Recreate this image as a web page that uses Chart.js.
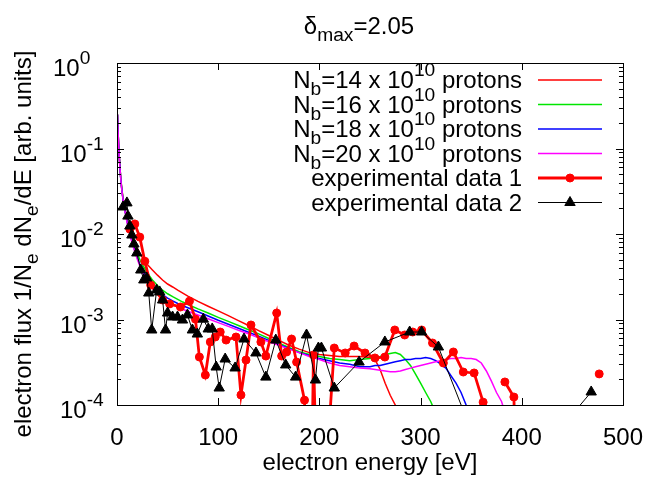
<!DOCTYPE html>
<html>
<head>
<meta charset="utf-8">
<script src="https://cdn.jsdelivr.net/npm/chart.js@4/dist/chart.umd.min.js"></script>
<style>
  html, body { margin: 0; padding: 0; background: #fff; }
  #caja { width: 654px; height: 479px; position: relative; }
</style>
</head>
<body>
<div id="caja"><canvas id="grafica"></canvas></div>
<script>
// energias de la simulacion [eV]
var energia = [0.5, 1, 2, 3, 4, 5, 6, 8, 10, 12, 14, 16, 18, 20, 23, 26, 30, 35, 40, 45,
    50, 55, 60, 65, 70, 80, 90, 100, 110, 120, 130, 140, 150, 160, 170, 180, 190, 200, 210, 220,
    230, 240, 250, 255, 260, 265, 270, 275, 280, 285, 290, 295, 300, 305, 310, 315, 320, 325, 330, 335,
    340, 345, 350, 355, 360, 365, 370, 375, 380, 385];

// flujo simulado para cada intensidad del haz
var flujo14 = [0.25, 0.16, 0.09, 0.058, 0.041, 0.032, 0.026, 0.019, 0.0148, 0.0121, 0.0102, 0.0088, 0.0077, 0.0068, 0.0058, 0.0051, 0.0044, 0.0038, 0.0033, 0.0029,
    0.0026, 0.0024, 0.0022, 0.00203, 0.00188, 0.00163, 0.00143, 0.00126, 0.00111, 0.00097, 0.00085, 0.00074, 0.00065, 0.00057, 0.0005, 0.00045, 0.00041, 0.00039, 0.00038, 0.00037,
    0.00037, 0.00037, 0.00036, 0.00034, 0.00026, 0.00018, 0.00013, 0.0001, 0.00007, null, null, null, null, null, null, null, null, null, null, null,
    null, null, null, null, null, null, null, null, null, null];
var flujo16 = [0.25, 0.16, 0.09, 0.058, 0.041, 0.032, 0.026, 0.0186, 0.0143, 0.0115, 0.0095, 0.008, 0.0068, 0.0059, 0.0049, 0.0042, 0.0035, 0.0029, 0.0025, 0.0022,
    0.002, 0.00185, 0.00172, 0.0016, 0.0015, 0.00133, 0.00119, 0.00106, 0.00095, 0.00085, 0.00076, 0.00068, 0.0006, 0.00053, 0.00047, 0.00042, 0.00039, 0.00037, 0.00035, 0.00034,
    0.00033, 0.00034, 0.00035, 0.00036, 0.00037, 0.00039, 0.0004, 0.00041, 0.00039, 0.00034, 0.00029, 0.00023, 0.00018, 0.00014, 0.00011, 0.00008, null, null, null, null,
    null, null, null, null, null, null, null, null, null, null];
var flujo18 = [0.25, 0.16, 0.09, 0.057, 0.04, 0.031, 0.025, 0.0183, 0.014, 0.011, 0.0089, 0.0074, 0.0062, 0.0053, 0.0043, 0.0036, 0.003, 0.0025, 0.0022, 0.00195,
    0.00178, 0.00165, 0.00154, 0.00145, 0.00137, 0.00123, 0.0011, 0.00098, 0.00088, 0.00079, 0.00071, 0.00064, 0.00057, 0.00051, 0.00046, 0.00041, 0.00038, 0.00035, 0.00033, 0.00031,
    0.0003, 0.00028, 0.00028, 0.00029, 0.00029, 0.0003, 0.00031, 0.00032, 0.00033, 0.00034, 0.00034, 0.00035, 0.00035, 0.00036, 0.00035, 0.00033, 0.0003, 0.00027, 0.00022, 0.00018,
    0.00014, 0.0001, 0.00007, null, null, null, null, null, null, null];
var flujo20 = [0.25, 0.16, 0.09, 0.057, 0.04, 0.031, 0.025, 0.018, 0.0135, 0.0107, 0.0086, 0.0071, 0.006, 0.0051, 0.0041, 0.0034, 0.0028, 0.0023, 0.002, 0.0018,
    0.00162, 0.0015, 0.0014, 0.00132, 0.00125, 0.00113, 0.00102, 0.00092, 0.00083, 0.00075, 0.00068, 0.00061, 0.00055, 0.0005, 0.00045, 0.00041, 0.00037, 0.00034, 0.00031, 0.00029,
    0.00028, 0.00027, 0.000265, 0.00026, 0.000255, 0.00025, 0.000245, 0.000245, 0.00025, 0.00026, 0.00027, 0.00028, 0.00029, 0.0003, 0.00031, 0.00032, 0.00033, 0.00034, 0.00035, 0.00035,
    0.00036, 0.00035, 0.00035, 0.00034, 0.00031, 0.00025, 0.00019, 0.00014, 0.00011, 0.00007];

// datos experimentales 1 (null = sin dato)
var exp1Energia = [12.7, 17.6, 22.5, 27.5, 33.3, 45.1, 52, 62.7, 71.6, 77.5,
    81.4, 87.3, 92.2, 97.1, 102, 107.8, 117.6, 122.5, 127.5, 132.4,
    142.2, 147.1, 157.8, 162.7, 167.6, 172.5, 177.5, 185.3, 191.2, 194.1,
    200, 214.7, 225.5, 234.3, 245.1, 254.9, 264.7, 274.5, 284.3, 292.2,
    301, 311.8, 322.5, 332.4, 342.2, 352.9, 361.8, 372, 383.3, 392.2,
    397, 440, 476.5, 490];
var exp1Flujo = [0.0114, 0.0131, 0.0092, 0.0048, 0.00253, 0.00169, 0.00152, 0.0014, 0.00164, 0.00101,
    0.000364, 0.000224, 0.000546, 0.000624, 0.000714, 0.000575, 0.000624, 0.000131, 0.000336, 0.000863,
    0.000546, 0.000374, 0.00119, 0.000374, 0.000417, 0.000591, 0.000318, 0.000114, 0.000001, 0.000385,
    0.000001, 0.000464, 0.000406, 0.00049, 0.000406, 0.000355, 0.000364, 0.000754, 0.000659, 0.000714,
    0.000754, 0.000531, 0.00031, 0.000417, 0.000243, 0.000237, 0.000108, null, 0.000186, 0.000124,
    0.000001, null, 0.000231, null];

// datos experimentales 2
var exp2Energia = [5.9, 9.8, 10.8, 12.7, 14.7, 16.7, 19.6, 23.5, 26.5, 29.4,
    31.4, 34.3, 39.2, 42.2, 45.1, 48, 50, 54.9, 59.8, 64.7,
    69.6, 74.5, 79.4, 85.3, 90.2, 94.1, 98, 101, 106.9, 116.7,
    125.5, 137.3, 147.1, 156.9, 166.7, 176.5, 187.3, 196.1, 199, 202,
    214.7, 239.2, 264.7, 289.2, 301, 317.6, 377.5, 468.6];
var exp2Flujo = [0.0207, 0.0231, 0.0162, 0.0124, 0.00973, 0.00764, 0.006, 0.00379, 0.0029, 0.00306,
    0.00204, 0.000754, 0.00221, 0.0021, 0.00169, 0.000754, 0.00119, 0.00107, 0.00107, 0.000986,
    0.00113, 0.000754, 0.000676, 0.00101, 0.000775, 0.000775, 0.000278, 0.000158, 0.000345, 0.000271,
    0.000591, 0.000406, 0.000212, 0.000575, 0.000294, 0.000212, 0.000659, 0.000196, 0.000464, 0.000464,
    0.000158, 0.000318, 0.000546, 0.000714, 0.000714, 0.000477, 0.0000074, 0.000142];

// ejes y textos (^ superindice, _ subindice)
var xTicks = [0, 100, 200, 300, 400, 500];
var yTicks = [1e-4, 1e-3, 1e-2, 1e-1, 1];
var yEtiquetas = ['10^{-4}', '10^{-3}', '10^{-2}', '10^{-1}', '10^{0}'];
var etiquetas = ['N_b=14 x 10^{10} protons', 'N_b=16 x 10^{10} protons', 'N_b=18 x 10^{10} protons',
    'N_b=20 x 10^{10} protons', 'experimental data 1', 'experimental data 2'];
var titulo = '\u03b4_{max}=2.05';
var tituloX = 'electron energy [eV]';
var tituloY = 'electron flux 1/N_e dN_e/dE [arb. units]';

var FUENTE = '"Liberation Sans", Arial, sans-serif';
var TAM = 24;

function puntos(xs, ys) {
    var salida = [];
    for (var i = 0; i < xs.length; i++) {
        salida.push({ x: xs[i], y: ys[i] });
    }
    return salida;
}

// separa un texto en trozos normales, superindices y subindices
function partir(texto) {
    var partes = [];
    var actual = '';
    var i = 0;
    while (i < texto.length) {
        var c = texto[i];
        if (c === '_' || c === '^') {
            if (actual) { partes.push({ t: actual, n: 0 }); actual = ''; }
            var grupo;
            if (texto[i + 1] === '{') {
                var fin = texto.indexOf('}', i);
                grupo = texto.substring(i + 2, fin);
                i = fin + 1;
            } else {
                grupo = texto[i + 1];
                i += 2;
            }
            partes.push({ t: grupo, n: c === '^' ? 1 : -1 });
        } else {
            actual += c;
            i++;
        }
    }
    if (actual) partes.push({ t: actual, n: 0 });
    return partes;
}

function escribir(ctx, texto, x, y, alineado, tam) {
    var partes = partir(texto);
    var ancho = 0;
    partes.forEach(function(p) {
        ctx.font = (p.n === 0 ? tam : tam * 0.8) + 'px ' + FUENTE;
        p.w = ctx.measureText(p.t).width;
        ancho += p.w;
    });
    var inicio = x;
    if (alineado === 'right') inicio = x - ancho;
    if (alineado === 'center') inicio = x - ancho / 2;
    ctx.textAlign = 'left';
    ctx.textBaseline = 'alphabetic';
    partes.forEach(function(p) {
        ctx.font = (p.n === 0 ? tam : tam * 0.8) + 'px ' + FUENTE;
        var dy = 0;
        if (p.n > 0) dy = -0.5 * tam;
        if (p.n < 0) dy = 0.3 * tam;
        ctx.fillText(p.t, inicio, y + dy);
        inicio += p.w;
    });
}

// marco, marcas, etiquetas del eje y, titulo y leyenda
var marco = {
    id: 'marco',
    afterDraw: function(chart) {
        var ctx = chart.ctx;
        var area = chart.chartArea;
        var x = chart.scales.x;
        var y = chart.scales.y;
        ctx.save();
        ctx.strokeStyle = '#000';
        ctx.fillStyle = '#000';
        ctx.lineWidth = 1;

        ctx.beginPath();
        xTicks.forEach(function(v) {
            var px = Math.round(x.getPixelForValue(v)) + 0.5;
            ctx.moveTo(px, area.bottom); ctx.lineTo(px, area.bottom - 7);
            ctx.moveTo(px, area.top); ctx.lineTo(px, area.top + 7);
        });
        for (var d = -4; d < 0; d++) {
            for (var m = 1; m < 10; m++) {
                var largo = m === 1 ? 7 : 4;
                var py = Math.round(y.getPixelForValue(m * Math.pow(10, d))) + 0.5;
                ctx.moveTo(area.left, py); ctx.lineTo(area.left + largo, py);
                ctx.moveTo(area.right, py); ctx.lineTo(area.right - largo, py);
            }
        }
        ctx.stroke();
        ctx.strokeRect(Math.round(area.left) + 0.5, Math.round(area.top) + 0.5,
            Math.round(area.right - area.left), Math.round(area.bottom - area.top));

        // las potencias negativas van alineadas a la izquierda en x=60, 10^0 un poco antes
        yTicks.forEach(function(v, i) {
            var xi = yEtiquetas[i].indexOf('-') < 0 ? area.left - 64 : area.left - 57;
            escribir(ctx, yEtiquetas[i], xi, y.getPixelForValue(v) + 13, 'left', TAM);
        });

        escribir(ctx, titulo, 359, 34, 'center', TAM);

        ctx.save();
        ctx.translate(31, 244);
        ctx.rotate(-Math.PI / 2);
        escribir(ctx, tituloY, 0, 0, 'center', TAM);
        ctx.restore();

        // leyenda
        chart.data.datasets.forEach(function(ds, i) {
            var fila = 80 + i * 24.5;
            ctx.fillStyle = '#000';
            escribir(ctx, etiquetas[i], 522, fila + 8, 'right', TAM);
            ctx.strokeStyle = ds.borderColor;
            ctx.lineWidth = ds.borderWidth;
            ctx.beginPath();
            ctx.moveTo(538, fila); ctx.lineTo(602, fila);
            ctx.stroke();
            if (ds.pointRadius > 0) {
                ctx.fillStyle = ds.backgroundColor;
                ctx.lineWidth = 1;
                Chart.helpers.drawPoint(ctx, { pointStyle: ds.pointStyle, radius: ds.pointRadius, rotation: 0, borderWidth: 1 }, 570, fila);
            }
        });
        ctx.restore();
    }
};

Chart.defaults.font.family = FUENTE;
Chart.defaults.color = '#000';

new Chart(document.getElementById('grafica'), {
    type: 'line',
    data: {
        datasets: [
            { data: puntos(energia, flujo14), borderColor: '#ff0000', backgroundColor: '#ff0000', borderWidth: 1.5, pointRadius: 0, order: 5 },
            { data: puntos(energia, flujo16), borderColor: '#00e600', backgroundColor: '#00e600', borderWidth: 1.5, pointRadius: 0, order: 4 },
            { data: puntos(energia, flujo18), borderColor: '#0000ff', backgroundColor: '#0000ff', borderWidth: 1.5, pointRadius: 0, order: 3 },
            { data: puntos(energia, flujo20), borderColor: '#ff00ff', backgroundColor: '#ff00ff', borderWidth: 1.5, pointRadius: 0, order: 2 },
            { data: puntos(exp1Energia, exp1Flujo), borderColor: '#ff0000', backgroundColor: '#ff0000', borderWidth: 2.8,
              pointStyle: 'circle', pointRadius: 4, pointBorderWidth: 1, order: 1 },
            { data: puntos(exp2Energia, exp2Flujo), borderColor: '#000000', backgroundColor: '#000000', borderWidth: 1,
              pointStyle: 'triangle', pointRadius: 6, pointBorderWidth: 1, order: 0 }
        ]
    },
    options: {
        responsive: true,
        maintainAspectRatio: false,
        animation: false,
        events: [],
        layout: { padding: { top: 63, right: 27, bottom: 0, left: 0 } },
        plugins: { legend: { display: false }, tooltip: { enabled: false } },
        scales: {
            x: {
                type: 'linear', min: 0, max: 500,
                grid: { display: false },
                border: { display: false },
                ticks: { stepSize: 100, maxRotation: 0, autoSkip: false, padding: 11, color: '#000', font: { size: TAM } },
                title: { display: true, text: tituloX, color: '#000', font: { size: TAM }, padding: { top: 0, bottom: 1 } },
                afterFit: function(escala) { escala.height = 74; }
            },
            y: {
                type: 'logarithmic', min: 1e-4, max: 1,
                grid: { display: false },
                border: { display: false },
                ticks: { display: false },
                afterFit: function(escala) { escala.width = 117; }
            }
        }
    },
    plugins: [marco]
});
</script>
</body>
</html>
